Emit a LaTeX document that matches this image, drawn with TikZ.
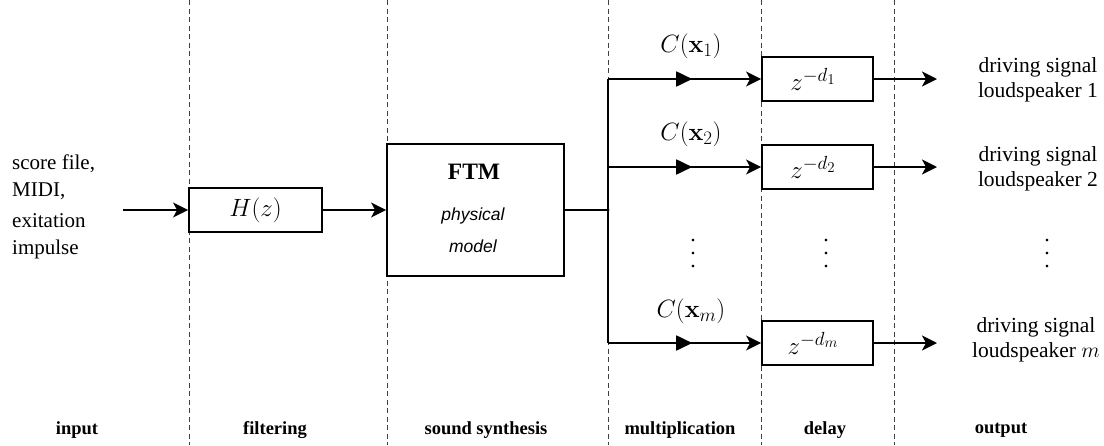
\RequirePackage{fix-cm}
\documentclass[tikz,border=0pt]{standalone}
\usepackage[no-math]{fontspec}
\setmainfont{Liberation Serif}
\newfontfamily\phsans{Liberation Sans}
\DeclareMathSizes{25}{25}{19}{15}
\DeclareMathSizes{21.5}{21.5}{16}{12}
\usetikzlibrary{arrows.meta,decorations.markings}
\begin{document}
\begin{tikzpicture}[x=1pt,y=-1pt,
  txt/.style={font=\fontsize{21.5}{25}\selectfont, inner sep=0pt},
  mth/.style={font=\fontsize{25}{28}\selectfont, inner sep=0pt},
  dts/.style={font=\fontsize{22}{13}\selectfont, inner sep=0pt, align=center},
  lbl/.style={font=\fontsize{18.5}{22}\selectfont\bfseries, inner sep=0pt},
  blk/.style={draw, line width=1.8pt, inner sep=0pt},
  sep/.style={draw=black!75, line width=0.8pt, dash pattern=on 5pt off 3.5pt},
  sig/.style={line width=1.8pt, -{Stealth[length=15pt,width=15pt,inset=4pt]}},
  mid/.style={postaction={decorate}, decoration={markings,
     mark=at position 0.55 with {\arrow{Triangle[length=16pt,width=15pt]}}}}
]
\useasboundingbox (0,0) rectangle (1104,445);
% separators
\foreach \xx in {189,387,608,761,894}
  \draw[sep] (\xx,0) -- (\xx,445);
% blocks
\node[blk, minimum width=133pt, minimum height=44pt] (H) at (255.5,210) {};
\node[mth] at (H.center) {$H(z)$};
\node[blk, minimum width=177pt, minimum height=132pt] (F) at (475.5,210) {};
\node[font=\fontsize{23.5}{27}\selectfont\bfseries, inner sep=0pt] (ftm) at (474,172) {FTM};
\node[font=\fontsize{17.5}{20}\selectfont\phsans\itshape, inner sep=0pt] (pm1) at (473,216) {physical};
\node[font=\fontsize{17.5}{20}\selectfont\phsans\itshape, inner sep=0pt] (pm2) at (473,246) {model};
\node[blk, minimum width=111pt, minimum height=44pt] (D1) at (817.5,79) {};
\node[blk, minimum width=111pt, minimum height=44pt] (D2) at (817.5,167) {};
\node[blk, minimum width=111pt, minimum height=44pt] (Dm) at (817.5,343) {};
\node[mth] at (813,79) {$z^{-d_1}$};
\node[mth] at (813,167) {$z^{-d_2}$};
\node[mth] at (813,343) {$z^{-d_m}$};
% input
\node[font=\fontsize{21}{27}\selectfont, inner sep=0pt, anchor=north west, align=left] (in) at (12,155) {score file,\\MIDI,\\[4pt]exitation\\impulse};
\coordinate (inA) at (123,210);
\draw[sig] (inA) -- (H.west);
\draw[sig] (H.east) -- (F.west);
% bus
\coordinate (b0) at (608,210);
\coordinate (b1) at (608,79);
\coordinate (b2) at (608,167);
\coordinate (bm) at (608,343);
\draw[line width=1.8pt] (F.east) -- (b0);
\draw[line width=1.8pt] (b1) -- (bm);
\fill (b0) circle (1.5pt);
\draw[sig, mid] (b1) -- (D1.west);
\draw[sig, mid] (b2) -- (D2.west);
\draw[sig, mid] (bm) -- (Dm.west);
\node[mth] (c1) at (691,46) {$C(\mathbf{x}_1)$};
\node[mth] (c2) at (691,134) {$C(\mathbf{x}_2)$};
\node[mth] (cm) at (691,311) {$C(\mathbf{x}_m)$};
% outputs
\coordinate (o1) at (937,79);
\coordinate (o2) at (937,167);
\coordinate (om) at (937,343);
\draw[sig] (D1.east) -- (o1);
\draw[sig] (D2.east) -- (o2);
\draw[sig] (Dm.east) -- (om);
\node[txt, align=center] (t1) at (1038,80) {driving signal\\loudspeaker 1};
\node[txt, align=center] (t2) at (1038,169) {driving signal\\loudspeaker 2};
\node[txt, align=center] (tm) at (1036,340) {driving signal\\loudspeaker $m$};
% dots
\node[dts] (v1) at (693,254) {.\\.\\.};
\node[dts] (v2) at (826,254) {.\\.\\.};
\node[dts] (v3) at (1047,254) {.\\.\\.};
% bottom labels
\node[lbl] (l1) at (77,430) {input};
\node[lbl] (l2) at (275,430) {filtering};
\node[lbl] (l3) at (486,430) {sound synthesis};
\node[lbl] (l4) at (680,430) {multiplication};
\node[lbl] (l5) at (825,430) {delay};
\node[lbl] (l6) at (1001,430) {output};
\end{tikzpicture}
\end{document}
